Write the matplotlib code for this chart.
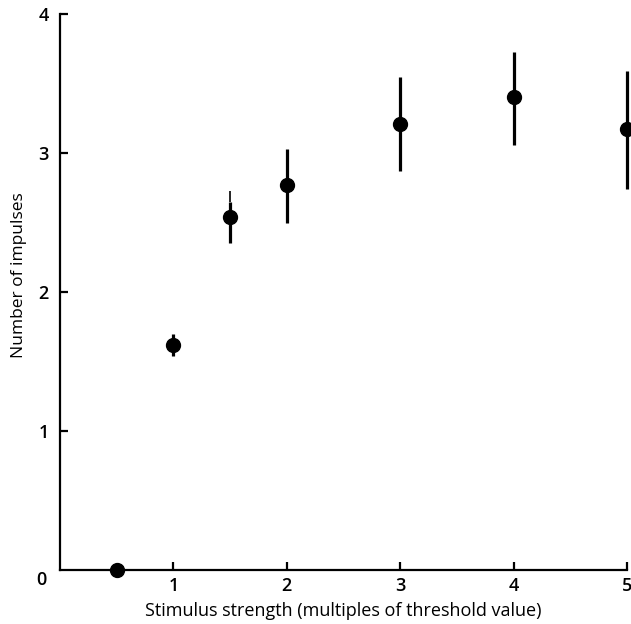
import numpy as np
import matplotlib.pyplot as plt

# stimulus strength (multiples of threshold) and mean number of impulses
strength = [0.5, 1, 1.5, 2, 3, 4, 5]
impulses = [0.0, 1.62, 2.54, 2.77, 3.21, 3.40, 3.17]
err_low = [0.0, 0.08, 0.19, 0.27, 0.34, 0.34, 0.43]
err_high = [0.0, 0.08, 0.11, 0.26, 0.34, 0.33, 0.42]
# thin extra whisker on the 1.5 point
thin_x = [1.5]
thin_lo = [2.65]
thin_hi = [2.73]

plt.rcParams['font.family'] = ['Open Sans', 'DejaVu Sans']

fig = plt.figure(figsize=(6.31, 6.24), dpi=100)
ax = fig.add_axes([0.095, 0.0865, 0.8985, 0.891])

ax.errorbar(strength, impulses, yerr=[err_low, err_high], fmt='o', color='black',
            markersize=10, elinewidth=2.3, capsize=0, clip_on=False, zorder=3)
ax.vlines(thin_x, thin_lo, thin_hi, color='black', linewidth=1.2)

ax.set_xlim(0, 5)
ax.set_ylim(0, 4)
ax.set_xticks([1, 2, 3, 4, 5])
ax.set_yticks([1, 2, 3, 4])
ax.spines['top'].set_visible(False)
ax.spines['right'].set_visible(False)
for s in ['left', 'bottom']:
    ax.spines[s].set_linewidth(1.6)
ax.tick_params(direction='in', length=6, width=1.6, labelsize=13, pad=5)
ax.tick_params(axis='y', pad=8)
for lab in ax.get_xticklabels() + ax.get_yticklabels():
    lab.set_fontweight('semibold')
ax.text(-0.032, -0.018, '0', transform=ax.transAxes, ha='center', va='center',
        fontsize=13, fontweight='semibold')

ax.set_xlabel('Stimulus strength (multiples of threshold value)', fontsize=13, labelpad=5)
ax.set_ylabel('Number of impulses', fontsize=12.5)
ax.yaxis.set_label_coords(-0.058, 0.53)

fig.savefig('out.png', dpi=100)
